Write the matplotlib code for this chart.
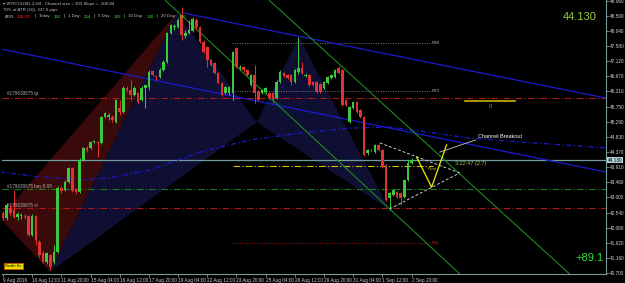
import matplotlib
matplotlib.use("Agg")
import matplotlib.pyplot as plt
from matplotlib.patches import Polygon

plt.rcParams['font.family'] = ['Liberation Sans', 'DejaVu Sans']

# ---- candle data (WTI H4) ----
opens = [42.53, 42.38, 42.68, 42.62, 42.41, 42.44, 42.44, 42.44, 41.86, 42.44,
         41.65, 41.31, 41.04, 41.25, 41.04, 41.34, 43.28, 43.22, 43.47, 43.89,
         43.25, 43.16, 44.13, 44.50, 44.50, 44.68, 44.68, 44.65, 45.43, 45.43,
         45.43, 45.28, 45.71, 45.59, 46.31, 46.25, 46.10, 46.16, 45.95, 46.31,
         46.34, 46.83, 46.68, 46.65, 46.86, 47.10, 47.98, 48.16, 48.16, 48.53,
         47.89, 47.98, 48.04, 48.37, 48.16, 47.71, 47.56, 47.16, 47.07, 46.77,
         46.47, 46.16, 46.16, 46.16, 47.53, 46.92, 46.95, 46.86, 46.40, 46.71,
         46.19, 46.16, 46.19, 46.16, 46.16, 46.01, 46.50, 46.77, 46.71, 46.71,
         46.50, 46.80, 46.92, 46.68, 46.71, 46.50, 46.50, 46.43, 46.31, 46.47,
         46.62, 46.65, 46.92, 46.86, 45.95, 45.28, 45.71, 45.89, 45.65, 45.43,
         44.34, 44.43, 44.37, 44.59, 44.43, 43.98, 42.98, 43.07, 43.16, 43.13,
         43.01, 43.53, 44.04]
closes = [42.38, 42.77, 42.53, 42.41, 42.50, 42.47, 42.41, 41.86, 42.44, 41.71,
          41.25, 41.04, 41.31, 40.89, 41.34, 43.28, 43.19, 43.47, 43.89, 43.19,
          43.16, 44.13, 44.50, 44.43, 44.68, 44.70, 44.65, 45.43, 45.56, 45.50,
          45.34, 45.95, 45.59, 46.31, 46.25, 46.10, 46.31, 45.89, 46.31, 46.40,
          46.80, 46.71, 46.65, 46.86, 47.10, 47.98, 48.22, 48.19, 48.37, 47.92,
          47.98, 48.07, 48.40, 48.16, 47.71, 47.40, 47.16, 47.01, 46.77, 46.47,
          46.10, 46.34, 46.34, 47.40, 46.95, 46.95, 46.86, 46.71, 46.71, 46.16,
          45.95, 46.25, 46.31, 46.01, 45.98, 46.50, 46.80, 46.68, 46.62, 46.50,
          46.86, 46.92, 46.77, 46.71, 46.40, 46.40, 46.19, 46.19, 46.50, 46.65,
          46.71, 46.86, 46.77, 45.80, 45.80, 45.74, 45.89, 45.59, 45.43, 44.28,
          44.43, 44.44, 44.59, 44.43, 43.92, 42.92, 43.13, 43.22, 43.01, 42.98,
          43.53, 44.04, 44.13]
highs = [42.59, 42.83, 42.77, 43.22, 42.56, 42.53, 42.50, 42.47, 42.50, 42.47,
         41.71, 41.37, 41.34, 41.28, 41.56, 43.34, 43.34, 43.53, 43.92, 43.92,
         43.28, 44.19, 44.53, 44.56, 44.71, 44.74, 44.71, 45.47, 45.59, 45.56,
         45.50, 45.98, 45.95, 46.37, 46.37, 46.56, 46.37, 46.19, 46.37, 46.43,
         46.86, 46.86, 46.71, 46.92, 47.16, 48.01, 48.25, 48.25, 48.43, 48.77,
         48.07, 48.37, 48.46, 48.43, 48.19, 47.77, 47.59, 47.19, 47.10, 46.80,
         46.50, 46.37, 46.37, 47.43, 47.56, 47.01, 46.98, 46.89, 46.74, 47.01,
         46.25, 46.28, 46.34, 46.19, 46.19, 46.56, 46.86, 46.80, 46.74, 46.74,
         46.89, 47.86, 47.10, 46.77, 46.74, 46.53, 46.53, 46.47, 46.53, 46.68,
         46.74, 46.89, 46.98, 46.89, 45.98, 45.77, 45.92, 45.92, 45.68, 45.47,
         44.47, 44.47, 44.62, 44.62, 44.47, 44.01, 43.16, 43.25, 43.19, 43.16,
         43.56, 44.13, 44.19]
lows = [42.31, 42.31, 42.47, 42.38, 42.31, 42.34, 42.34, 41.83, 41.83, 41.56,
        41.19, 41.01, 40.98, 40.80, 40.98, 41.31, 43.13, 43.19, 43.43, 43.16,
        43.10, 43.13, 44.10, 44.37, 44.47, 44.65, 44.22, 44.62, 45.40, 45.34,
        45.28, 45.25, 45.50, 45.56, 46.19, 45.95, 46.07, 45.86, 45.92, 45.71,
        46.25, 46.68, 46.56, 46.62, 46.83, 47.07, 47.95, 48.07, 48.13, 47.77,
        47.83, 47.95, 48.01, 48.07, 47.68, 47.37, 46.95, 46.98, 46.74, 46.43,
        46.07, 46.13, 46.10, 45.95, 46.92, 46.86, 46.80, 46.68, 46.37, 45.86,
        45.92, 46.13, 46.16, 45.98, 45.86, 45.98, 46.47, 46.65, 46.59, 46.40,
        46.47, 46.74, 46.74, 46.65, 46.37, 46.37, 46.16, 46.16, 46.28, 46.43,
        46.59, 46.62, 46.74, 45.77, 45.77, 45.25, 45.68, 45.56, 45.40, 44.25,
        44.28, 44.40, 44.34, 44.40, 43.89, 42.89, 42.62, 43.04, 42.98, 42.77,
        42.98, 43.50, 44.01]

# axis labels
price_ticks = [48.960, 48.500, 48.040, 47.580, 47.120, 46.670, 46.210, 45.750, 45.290,
               44.830, 44.370, 43.910, 43.460, 43.000, 42.540, 42.080, 41.620, 41.160, 40.700]
date_ticks = [0, 8, 16, 24, 32, 40, 48, 56, 64, 72, 80, 88, 96, 104, 112]
date_labels = ["9 Aug 2016", "10 Aug 12:00", "11 Aug 20:00", "15 Aug 04:00", "16 Aug 12:00",
               "17 Aug 20:00", "19 Aug 04:00", "22 Aug 12:00", "23 Aug 20:00", "25 Aug 04:00",
               "26 Aug 12:00", "29 Aug 20:00", "31 Aug 04:00", "1 Sep 12:00", "2 Sep 20:00"]

# indicator objects (bar index, price)
current_price = 44.13
tp_level, buy_level, sl_level, pivot_level = 46.01, 43.25, 42.68, 43.95
upper_blue = ([49.3, 165.2], [48.59, 46.01])
lower_blue = ([-0.8, 165.2], [47.50, 43.77])
green_a = ([44.4, 125.2], [48.98, 40.68])
green_b = ([72.9, 155.3], [48.98, 40.68])
ma_x = [-0.8, 10.1, 21.1, 29.3, 40.3, 54.0, 67.7, 81.4, 95.1, 106.0, 114.2, 127.9, 141.6, 165.2]
ma_y = [43.77, 43.62, 43.53, 43.59, 43.83, 44.37, 44.74, 44.95, 45.10, 45.13, 45.01, 44.80, 44.68, 44.50]
red_zone = ([-0.8, 47.7, 12.9], [42.37, 48.59, 40.74])
xab = ([12.9, 47.7, 69.6], [40.74, 48.59, 45.28])
bcd = ([69.6, 81.1, 106.0], [45.28, 47.86, 42.62])
fib_levels = [47.68, 46.22]
fib_labels = ["R38", "R23"]
low_level = 41.62
zigzag = ([113.4, 117.5, 121.6], [44.22, 43.31, 44.59])
tri_top = ([103.3, 125.2], [44.65, 43.74])
tri_bot = ([106.0, 125.2], [42.65, 43.74])
target_level = 45.92

fig = plt.figure(figsize=(6.25, 2.83), dpi=100, facecolor='black')
ax = fig.add_axes([0.003, 0.032, 0.966, 0.968])
ax.set_facecolor('black')
ax.set_xlim(-0.3, 165.2)
ax.set_ylim(40.68, 48.98)

# shaded pattern areas
ax.add_patch(Polygon(list(zip(*red_zone)), closed=True, color='#3a0909', lw=0, zorder=0))
ax.add_patch(Polygon(list(zip(*xab)), closed=True, color='#0f0f33', lw=0, zorder=0))
ax.add_patch(Polygon(list(zip(*bcd)), closed=True, color='#0f0f33', lw=0, zorder=0))

# horizontal levels
dashdot = (0, (6, 2, 1, 2))
ax.axhline(tp_level, color='#b01818', lw=0.8, ls=dashdot, zorder=1)
ax.axhline(buy_level, color='#1c7a1c', lw=0.8, ls=dashdot, zorder=1)
ax.axhline(sl_level, color='#b01818', lw=0.8, ls=dashdot, zorder=1)
ax.axhline(current_price, color='#6f9c9c', lw=0.9, zorder=1)
ax.plot([63, 118], [pivot_level, pivot_level], color='#d0c000', lw=0.8, ls=dashdot, zorder=1)
for lvl, lab in zip(fib_levels, fib_labels):
    ax.plot([62.7, 117], [lvl, lvl], color='#707070', lw=0.7, ls=(0, (1, 1.5)), zorder=1)
    ax.text(117.5, lvl, lab, color='#c0c0c0', fontsize=3.1, va='center')
ax.plot([62.7, 117], [low_level, low_level], color='#b01818', lw=0.7, ls=(0, (1, 1.5)), zorder=1)
ax.text(117.5, low_level, "R61", color='#d02020', fontsize=3.1, va='center')

# trend / channel lines
ax.plot(*upper_blue, color='#1a1ad0', lw=0.9, zorder=1)
ax.plot(*lower_blue, color='#1a1ad0', lw=0.9, zorder=1)
ax.plot(ma_x, ma_y, color='#1a1ad0', lw=0.9, ls=(0, (4, 2, 1, 2)), zorder=1)
ax.plot(*green_a, color='#1e8a1e', lw=0.8, zorder=1)
ax.plot(*green_b, color='#1e8a1e', lw=0.8, zorder=1)

# candles
for i in range(len(opens)):
    col = '#3cc83c' if closes[i] >= opens[i] else '#e03232'
    ax.vlines(i, lows[i], highs[i], color=col, lw=0.7, zorder=3)
    ax.bar(i, max(abs(closes[i] - opens[i]), 0.015), bottom=min(opens[i], closes[i]),
           width=0.7, color=col, lw=0, zorder=3)

# triangle / breakout sketch
ax.plot(*tri_top, color='#c8c8c8', lw=0.7, ls=(0, (3, 2)), zorder=4)
ax.plot(*tri_bot, color='#c8c8c8', lw=0.7, ls=(0, (3, 2)), zorder=4)
ax.plot(*zigzag, color='#f0f000', lw=0.9, zorder=4)
ax.plot([119.7, 129.6], [44.37, 44.74], color='#c8c8c8', lw=0.6, zorder=4)
ax.text(130.1, 44.83, "Channel Breakout", color='white', fontsize=4.0, va='center')
ax.text(123.8, 44.04, "3:22:47 (2.7)", color='#a8c838', fontsize=4.0, va='center')
ax.text(116.4, 43.86, "Pivot", color='#e0c000', fontsize=3.0, va='center')
ax.plot([126.6, 140.3], [target_level, target_level], color='#c8b400', lw=1.2, zorder=4)
ax.text(133.5, 45.76, "0", color='#a09000', fontsize=4, ha='center', va='center')

# trade labels
ax.text(1, tp_level + 0.09, "#179630675 tp", color='#b0b0b0', fontsize=3.3)
ax.text(1, buy_level + 0.04, "#179630675 buy 8.95", color='#b0b0b0', fontsize=3.3)
ax.text(1, sl_level + 0.04, "#179630675 sl", color='#b0b0b0', fontsize=3.3)

# axes styling
for s in ['top', 'left']:
    ax.spines[s].set_visible(False)
ax.spines['right'].set_color('#7a9a9a')
ax.spines['bottom'].set_color('#7a9a9a')
ax.yaxis.tick_right()
ax.set_yticks(price_ticks)
ax.set_yticklabels([f"{p:.3f}" for p in price_ticks])
ax.tick_params(axis='y', colors='#7a9a9a', labelcolor='#d0d0d0', labelsize=3.4, length=2, width=0.6, pad=0.8)
ax.set_xticks(date_ticks)
ax.set_xticklabels(date_labels, ha='left')
ax.tick_params(axis='x', colors='#7a9a9a', labelcolor='#d0d0d0', labelsize=3.4, length=2, width=0.6, pad=0.8)
ax.text(1.0035, current_price, f"{current_price:.3f}", transform=ax.get_yaxis_transform(),
        color='black', fontsize=3.4, va='center',
        bbox=dict(boxstyle='square,pad=0.15', fc='#b8d4d4', ec='none'))

# header text
fig.text(3 / 625, 1 - 4 / 283, "\u25be WTICOUSD-2,H4   Channel size = 303 Slope = -100.84",
         color='#c0c0c0', fontsize=3.2, va='center')
fig.text(3 / 625, 1 - 10.5 / 283, "70% of ATR (10): 337.6 pips", color='#c0c0c0', fontsize=3.2, va='center')
adr_parts = [("ADR:", '#c0c0c0'), ("100.0%", '#ff3030'), ("|", '#c0c0c0'),
             ("Today:", '#c0c0c0'), ("142", '#30e030'), ("|", '#c0c0c0'),
             ("1 Day:", '#c0c0c0'), ("204", '#30e030'), ("|", '#c0c0c0'),
             ("5 Day:", '#c0c0c0'), ("145", '#30e030'), ("|", '#c0c0c0'),
             ("10 Day:", '#c0c0c0'), ("130", '#30e030'), ("|", '#c0c0c0'),
             ("20 Day:", '#c0c0c0'), ("140", '#30e030')]
renderer = fig.canvas.get_renderer()
xpos = 5
for txt, col in adr_parts:
    t = fig.text(xpos / 625, 1 - 16.5 / 283, txt, color=col, fontsize=3.2, va='center')
    xpos = t.get_window_extent(renderer).x1 + (3.0 if txt[0].isdigit() or txt == "|" else 1.5)

fig.text(563 / 625, 1 - 17 / 283, "44.130", color='#9acd32', fontsize=8, va='center')
fig.text(575 / 625, 1 - 258 / 283, "+89.1", color='#33dd33', fontsize=8, va='center')
fig.text(5 / 625, 1 - 266 / 283, "Scale fix", color='black', fontsize=3.2, va='center',
         bbox=dict(boxstyle='square,pad=0.3', fc='#f0e000', ec='#d05000', lw=0.6))

fig.savefig("out.png", dpi=100, facecolor='black')
